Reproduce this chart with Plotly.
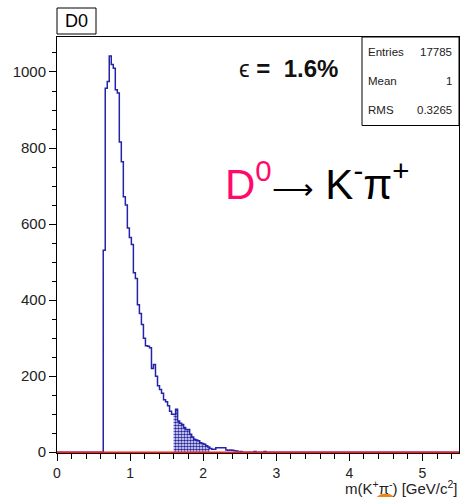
import numpy as np
import plotly.graph_objects as go

# Histogram binning: 200 bins over 0 - 5.5 GeV/c^2
x_min, x_max, n_bins = 0.0, 5.5, 200
first_bin = 23  # index of the first non-empty bin

# Bin contents from the first non-empty bin onwards
counts_nonzero = [
    531, 957, 975, 1042, 1020, 1010, 953, 945, 816, 764,
    672, 650, 590, 565, 546, 472, 457, 388, 365, 336, 300, 280, 279, 275,
    220, 231, 200, 175, 165, 155, 138, 133, 122, 108, 100,
    100, 113, 82, 76, 73, 65, 60, 60, 47, 40, 34, 32, 30, 25, 23, 21, 17, 14,
    10, 8, 8, 12, 12, 12, 12, 12, 6, 5, 6, 5, 4, 3,
    0, 2, 0, 0, 0, 0, 0, 0, 2, 0, 0, 0, 0, 2,
]

# Mass window used for the efficiency
signal_window = (1.6, 2.1)
background_level = 0.0

stats_labels = ["Entries", "Mean", "RMS"]
stats_values = ["17785", "1", "0.3265"]

x_ticks = [0, 1, 2, 3, 4, 5]
y_ticks = [0, 200, 400, 600, 800, 1000]

edges = np.linspace(x_min, x_max, n_bins + 1)
counts = np.zeros(n_bins)
counts[first_bin:first_bin + len(counts_nonzero)] = counts_nonzero
centers = 0.5 * (edges[:-1] + edges[1:])

in_win = np.where((centers > signal_window[0]) & (centers < signal_window[1]))[0]
i0, i1 = in_win[0], in_win[-1] + 1

LINE_BLUE = "#2424a6"
FONT = "Arial, Liberation Sans, Helvetica, sans-serif"

fig = go.Figure()

# shaded signal region
fig.add_trace(go.Scatter(
    x=edges[i0:i1 + 1],
    y=np.append(counts[i0:i1], counts[i1 - 1]),
    mode="lines", line_shape="hv", line=dict(width=0, color=LINE_BLUE),
    fill="tozeroy",
    fillpattern=dict(shape=".", fgcolor=LINE_BLUE, bgcolor="white",
                     size=3, solidity=0.6, fillmode="replace"),
    hoverinfo="skip", showlegend=False,
))

# histogram outline
fig.add_trace(go.Scatter(
    x=edges, y=np.append(counts, counts[-1]),
    mode="lines", line_shape="hv",
    line=dict(color=LINE_BLUE, width=1.5),
    showlegend=False,
))

# background function (flat at zero)
fig.add_trace(go.Scatter(
    x=edges, y=np.full_like(edges, background_level),
    mode="lines", line=dict(color="#ff1a1a", width=1.5),
    showlegend=False,
))

axis_common = dict(
    showgrid=False, zeroline=False, showline=True, linecolor="black",
    linewidth=1, mirror=True, ticks="outside", tickcolor="black",
    tickwidth=1, layer="below traces",
)

fig.update_xaxes(
    range=[x_min, x_max], tickvals=x_ticks, ticklen=7,
    tickfont=dict(family=FONT, size=14, color="#222"),
    minor=dict(dtick=0.2, ticks="outside", ticklen=5, tickcolor="black"),
    **axis_common,
)
fig.update_yaxes(
    range=[-2, 1092], tickvals=y_ticks, ticklen=7,
    tickfont=dict(family=FONT, size=15, color="#222"),
    minor=dict(dtick=50, ticks="outside", ticklen=4, tickcolor="black"),
    **axis_common,
)

# plot area in pixels: x 57..459, y 37..453
L, R, T, B = 57, 459, 37, 453
def px(x):
    return (x - L) / (R - L)
def py(y):
    return (B - y) / (B - T)

shapes = [
    # title box
    dict(type="rect", xref="paper", yref="paper",
         x0=px(57), x1=px(96), y0=py(34), y1=py(8),
         line=dict(color="black", width=1), fillcolor="white"),
    # stats box
    dict(type="rect", xref="paper", yref="paper",
         x0=px(362), x1=px(459), y0=py(125.5), y1=py(37),
         line=dict(color="black", width=1), fillcolor="white"),
    # orange marker below the axis title
    dict(type="circle", xref="paper", yref="paper",
         x0=px(373), x1=px(398), y0=py(517), y1=py(494),
         line=dict(color="#e98512", width=1), fillcolor="#e98512"),
]

annotations = [
    dict(text="D0", x=px(76.5), y=py(21.5), xref="paper", yref="paper",
         showarrow=False, font=dict(family=FONT, size=18, color="black"),
         xanchor="center", yanchor="middle"),
    dict(text="ϵ <b>=\u00a0\u00a01.6%</b>", x=px(237), y=py(69),
         xref="paper", yref="paper", showarrow=False,
         font=dict(family=FONT, size=24, color="#111"),
         xanchor="left", yanchor="middle"),
    dict(text=("<span style='color:#ff0a6c'>D<sup>0</sup></span>"
               "<span style='font-size:29px'>\u27f6</span> K<sup>-</sup>π<sup>+</sup>"),
         x=px(223), y=py(181), xref="paper", yref="paper", showarrow=False,
         font=dict(family=FONT, size=42, color="black"),
         xanchor="left", yanchor="middle"),
    dict(text="m(K<sup>+</sup>π<sup>-</sup>) [GeV/c<sup>2</sup>]",
         x=px(460), y=py(487), xref="paper", yref="paper", showarrow=False,
         font=dict(family=FONT, size=15, color="#222"),
         xanchor="right", yanchor="middle"),
]

row_y = [51.5, 81, 110]
for lab, val, yy in zip(stats_labels, stats_values, row_y):
    annotations.append(dict(text=lab, x=px(366), y=py(yy), xref="paper",
                            yref="paper", showarrow=False,
                            font=dict(family=FONT, size=11.5, color="#222"),
                            xanchor="left", yanchor="middle"))
    annotations.append(dict(text=val, x=px(454), y=py(yy), xref="paper",
                            yref="paper", showarrow=False,
                            font=dict(family=FONT, size=11.5, color="#222"),
                            xanchor="right", yanchor="middle"))

fig.update_layout(
    width=460, height=497,
    margin=dict(l=L, r=460 - R, t=T, b=497 - B),
    paper_bgcolor="white", plot_bgcolor="white",
    shapes=shapes, annotations=annotations,
    showlegend=False,
)

fig.write_html("out.html")
